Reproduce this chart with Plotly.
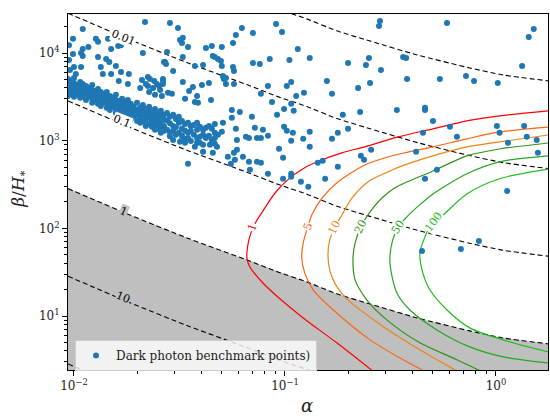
import numpy as np
import plotly.graph_objects as go

# ---------------- data ----------------
# dashed contours: base curve (level 1); other levels scale as 1/level
tau_alpha = [0.00937, 0.0119, 0.0184, 0.0343, 0.0660, 0.0925, 0.127, 0.176, 0.253, 0.424, 0.751, 1.08, 1.77]
tau_beta_level1 = [284, 222, 142, 77.8, 43.6, 31.8, 24.5, 17.9, 13.7, 9.5, 6.76, 5.62, 4.81]
tau_levels = [0.001, 0.01, 0.1, 1, 10, 100]

# SNR contours
snr_levels = [1, 5, 10, 20, 50, 100]
snr1_alpha = [0.286, 0.176, 0.122, 0.0925, 0.0786, 0.0682, 0.0660, 0.0667, 0.0690, 0.0728, 0.0803, 0.0897, 0.103, 0.124, 0.150, 0.186, 0.239, 0.344, 0.503, 0.728, 1.04, 1.77]
snr1_beta = [1.97, 4.94, 9.51, 16.5, 23.8, 36.3, 46.0, 64.7, 88.7, 118, 171, 253, 357, 491, 605, 727, 850, 1105, 1365, 1680, 1920, 2190]
snr5_alpha = [0.508, 0.363, 0.253, 0.176, 0.136, 0.124, 0.120, 0.122, 0.127, 0.134, 0.150, 0.178, 0.239, 0.307, 0.369, 0.503, 0.728, 1.04, 1.77]
snr5_beta = [2.07, 3.17, 5.34, 10.8, 19.9, 31.0, 47.2, 68.2, 95.9, 142, 222, 338, 529, 652, 727, 850, 1050, 1260, 1430]
snr10_alpha = [0.721, 0.639, 0.436, 0.276, 0.192, 0.167, 0.160, 0.163, 0.173, 0.186, 0.208, 0.247, 0.307, 0.369, 0.503, 0.728, 1.04, 1.77]
snr10_beta = [2.07, 2.43, 4.11, 8.34, 16.5, 27.9, 47.2, 73.8, 104, 142, 222, 338, 440, 529, 672, 848, 967, 1162]
snr20_alpha = [0.947, 0.653, 0.436, 0.304, 0.244, 0.215, 0.210, 0.215, 0.229, 0.247, 0.288, 0.331, 0.369, 0.503, 0.728, 1.04, 1.77]
snr20_beta = [2.07, 3.17, 4.94, 9.03, 15.3, 25.8, 43.6, 68.2, 104, 142, 222, 289, 329, 451, 672, 804, 942]
snr50_alpha = [1.77, 1.08, 0.751, 0.525, 0.391, 0.339, 0.322, 0.314, 0.324, 0.345, 0.378, 0.440, 0.503, 0.728, 1.04, 1.77]
snr50_beta = [2.92, 3.42, 4.44, 6.94, 11.7, 18.3, 27.9, 43.6, 73.8, 104, 135, 190, 247, 420, 574, 672]
snr100_alpha = [1.77, 1.08, 0.751, 0.586, 0.486, 0.446, 0.436, 0.451, 0.486, 0.555, 0.728, 1.04, 1.77]
snr100_beta = [3.90, 5.34, 7.32, 11.7, 19.9, 33.6, 52.4, 70.0, 104, 138, 247, 368, 475]

# benchmark points: dense band stored by column
band_alpha = [0.00937, 0.00968, 0.0100, 0.0103, 0.0107, 0.0110, 0.0114, 0.0118, 0.0122, 0.0126,
              0.0130, 0.0134, 0.0139, 0.0143, 0.0148, 0.0153, 0.0158, 0.0163, 0.0169, 0.0174,
              0.0180, 0.0186, 0.0192, 0.0199, 0.0206, 0.0212, 0.0219, 0.0227, 0.0234, 0.0242,
              0.0250, 0.0258, 0.0267, 0.0276, 0.0285, 0.0295, 0.0304, 0.0314, 0.0325, 0.0336,
              0.0347, 0.0358, 0.0370, 0.0383, 0.0395, 0.0409, 0.0422, 0.0436, 0.0450, 0.0465, 0.0481]
band_beta = [
    [5060, 4440, 4000, 3600, 3240], [4800, 4210, 3790, 3420], [5190, 4560, 3890, 3510, 3160],
    [4320, 4000, 3690, 3330], [4680, 4100, 3600, 3080], [4440, 3890, 3510, 3160],
    [4210, 3790, 3330, 2920], [4000, 3600, 3160], [4320, 3790, 3420, 3000, 2700],
    [3690, 3240, 2920], [3890, 3510, 3080, 2630], [3600, 3240, 2840, 2490],
    [3420, 3000, 2700], [3600, 3160, 2770, 2370], [3240, 2920, 2560, 2240],
    [3080, 2700, 2430], [3330, 2920, 2560, 2300, 2070], [2840, 2490, 2190],
    [3000, 2630, 2370, 2020], [2770, 2430, 2130, 1870], [2920, 2560, 2240, 1970],
    [2630, 2300, 2020, 1770], [2430, 2130, 1870], [2700, 2240, 1970, 1680],
    [2370, 2070, 1820, 1600], [2560, 2190, 1920, 1640], [2300, 2020, 1730, 1475],
    [2430, 2130, 1820, 1550], [2190, 1920, 1680, 1440], [2300, 2020, 1730, 1510, 1330],
    [2070, 1820, 1600, 1365], [2190, 1920, 1640, 1440, 1230], [1970, 1730, 1475, 1295],
    [2070, 1700, 1330], [1870, 1580, 1230, 1120], [1970, 1475, 1295],
    [1770, 1420, 1165], [1870, 1600, 1230], [1680, 1380, 1135, 1020],
    [1550, 1300, 1050], [1600, 1230, 1075], [1480, 1295, 990],
    [1510, 1165], [1600, 1330, 1075, 945], [1440, 1105],
    [1330, 1165, 896], [1400, 1075], [1475, 1135],
    [1365, 1020], [1550, 1075, 920], [1165],
]
# scattered benchmark points
upper_left_alpha = [0.0217, 0.0110, 0.00989, 0.0127, 0.0130, 0.0145, 0.0150, 0.0162, 0.0167, 0.0110,
                    0.0117, 0.0108, 0.0110, 0.00989, 0.0130, 0.0142, 0.0147, 0.0158, 0.0134, 0.0212,
                    0.0267, 0.0100, 0.0108, 0.0102, 0.0137, 0.0150, 0.0167, 0.0182, 0.0180, 0.0163,
                    0.0224, 0.0240, 0.0224, 0.0253, 0.0264, 0.00989, 0.00947, 0.00947, 0.00957,
                    0.0210, 0.0219, 0.0229, 0.0237, 0.0247, 0.0256, 0.0227, 0.0206, 0.0242, 0.0261]
upper_left_beta = [22600, 18800, 14500, 14500, 13400, 14500, 11100, 12000, 12300, 11100,
                   11700, 10000, 9240, 9740, 9000, 8540, 7900, 7110, 6930, 10000,
                   7900, 6930, 6930, 5770, 5770, 5770, 6080, 5770, 4440, 4800,
                   5330, 4800, 4210, 4210, 4800, 4210, 12300, 8320, 6400,
                   4930, 4440, 5060, 4000, 4440, 3790, 3600, 4000, 3330, 3240]
upper_mid_alpha = [0.0285, 0.0311, 0.0318, 0.0328, 0.0325, 0.0347, 0.0276, 0.0270, 0.0273, 0.0328,
                   0.0295, 0.0374, 0.0409, 0.0422, 0.0450, 0.0455, 0.0465, 0.0481, 0.0497, 0.0502,
                   0.0502, 0.0567, 0.0585, 0.0625, 0.0705, 0.0567, 0.0573, 0.0508, 0.0525, 0.0513,
                   0.0525, 0.0573, 0.0705, 0.0760, 0.0847, 0.0264, 0.0264, 0.0328, 0.0366, 0.0351,
                   0.0404, 0.0436, 0.0279, 0.0291, 0.0383, 0.0336, 0.0374, 0.0387, 0.0446]
upper_mid_beta = [22000, 19300, 14100, 14900, 13000, 11700, 10300, 7900, 7490, 9000,
                  6240, 7110, 7300, 11400, 12000, 9240, 9000, 8540, 8100, 11700,
                  7110, 13000, 16100, 19300, 16900, 6930, 6240, 5470, 5190, 5060,
                  4440, 4440, 7690, 7490, 8540, 5060, 4440, 4680, 4100, 3690,
                  4320, 4560, 3510, 3420, 3240, 3000, 2770, 2700, 2920]
upper_right_alpha = [0.0907, 0.0968, 0.115, 0.105, 0.131, 0.199, 0.242, 0.250, 0.285, 0.282,
                     0.279, 0.363, 0.158, 0.253, 0.222, 0.0830, 0.102, 0.107, 0.0769, 0.113,
                     0.123, 0.167, 0.0868, 0.107, 0.099, 0.110, 0.0917, 0.188, 0.227, 0.339,
                     0.099, 0.199]
upper_right_beta = [21400, 17400, 11100, 8320, 8770, 7690, 7300, 8770, 6400, 23200,
                    20300, 9000, 4800, 4560, 4000, 4210, 4210, 4680, 3420, 3240,
                    3510, 3420, 2770, 2630, 2300, 2190, 1970, 1970, 2130, 2240,
                    1440, 1365]
middle_alpha = [0.0720, 0.0786, 0.0736, 0.0769, 0.0830, 0.102, 0.109, 0.131, 0.107, 0.122,
                0.167, 0.178, 0.131, 0.0937, 0.0979, 0.0736, 0.0769, 0.143, 0.151, 0.178,
                0.229, 0.237, 0.256, 0.0830, 0.0979, 0.107, 0.107, 0.119, 0.129, 0.155]
middle_beta = [1400, 1330, 1075, 1075, 1135, 1295, 1230, 1260, 995, 1050,
               1050, 1230, 850, 807, 638, 574, 560, 560, 590, 504,
               672, 605, 786, 420, 368, 420, 388, 340, 299, 368]
right_alpha = [0.586, 1.51, 1.43, 0.375, 0.379, 0.542, 0.721, 0.787, 1.02, 1.33,
               0.461, 0.461, 0.503, 0.605, 0.451, 0.653, 1.01, 1.04, 1.36, 1.40,
               1.56, 1.14, 1.58, 0.418, 0.525, 0.461, 1.13, 0.830, 0.682, 0.446]
right_beta = [22000, 18800, 15200, 8770, 5060, 5060, 5470, 4800, 4560, 7110,
              2370, 2240, 1680, 1440, 1230, 1105, 1475, 1230, 1475, 1105,
              1020, 945, 727, 746, 466, 368, 267, 71.8, 58.2, 55.2]
lower_band_alpha = [0.0560, 0.0611, 0.0560, 0.0697, 0.0508, 0.0585, 0.0502, 0.0653, 0.0592, 0.0675,
                    0.0592, 0.0573, 0.0632, 0.0579, 0.0536, 0.0554, 0.0675, 0.0682, 0.0347, 0.0455,
                    0.0441, 0.0476, 0.0395, 0.0374, 0.0409, 0.0336, 0.0318, 0.0295, 0.0465]
lower_band_beta = [2240, 2130, 1820, 1870, 1600, 1365, 1260, 1105, 1020, 1075,
                   786, 727, 655, 605, 655, 545, 574, 466, 545, 727,
                   896, 850, 945, 850, 746, 945, 970, 1020, 1230]

# ---------------- assemble ----------------
pts_alpha, pts_beta = [], []
for a, col in zip(band_alpha, band_beta):
    pts_alpha += [a] * len(col)
    pts_beta += col
for A, B in [(upper_left_alpha, upper_left_beta), (upper_mid_alpha, upper_mid_beta),
             (upper_right_alpha, upper_right_beta), (middle_alpha, middle_beta),
             (right_alpha, right_beta), (lower_band_alpha, lower_band_beta)]:
    n = min(len(A), len(B))
    pts_alpha += A[:n]
    pts_beta += B[:n]

SERIF = "DejaVu Serif"
fig = go.Figure()

# gray excluded region below the level-1 dashed curve
fig.add_trace(go.Scatter(
    x=tau_alpha + [tau_alpha[-1], tau_alpha[0]],
    y=tau_beta_level1 + [1.0, 1.0],
    fill="toself", fillcolor="#bfbfbf", mode="lines", line=dict(width=0),
    hoverinfo="skip", showlegend=False))

for lev in tau_levels:
    fig.add_trace(go.Scatter(
        x=tau_alpha, y=list(np.array(tau_beta_level1) / lev), mode="lines",
        line=dict(color="black", width=1.1, dash="5px,3px", shape="spline", smoothing=0.6),
        hoverinfo="skip", showlegend=False))

snr_curves = [(snr1_alpha, snr1_beta), (snr5_alpha, snr5_beta), (snr10_alpha, snr10_beta),
              (snr20_alpha, snr20_beta), (snr50_alpha, snr50_beta), (snr100_alpha, snr100_beta)]
snr_colors = ["#ff0000", "#ff6410", "#ec8419", "#2f9414", "#22a822", "#20bd20"]
for (A, B), c in zip(snr_curves, snr_colors):
    fig.add_trace(go.Scatter(x=A, y=B, mode="lines",
                             line=dict(color=c, width=1.2, shape="spline", smoothing=0.8),
                             hoverinfo="skip", showlegend=False))

fig.add_trace(go.Scatter(x=pts_alpha, y=pts_beta, mode="markers",
                         marker=dict(color="#1f77b4", size=6),
                         name="Dark photon benchmark points)"))

# contour labels (alpha, beta, text, color, angle, background)
labels = [
    (0.0171, 14900, "0.01", "black", 22, "white"),
    (0.0169, 1640, "0.1", "black", 22, "white"),
    (0.0171, 154, "1", "black", 22, "#bfbfbf"),
    (0.0171, 16.1, "10", "black", 22, "#bfbfbf"),
    (0.0705, 104, "1", snr_colors[0], -70, "white"),
    (0.129, 104, "5", snr_colors[1], -70, "white"),
    (0.172, 101, "10", snr_colors[2], -64, "white"),
    (0.229, 104, "20", snr_colors[3], -64, "white"),
    (0.345, 104, "50", snr_colors[4], -58, "white"),
    (0.503, 118, "100", snr_colors[5], -54, "white"),
]
for a, b, t, c, ang, bg in labels:
    fig.add_annotation(x=np.log10(a), y=np.log10(b), text=t, showarrow=False,
                       xanchor="center", yanchor="middle",
                       textangle=ang, font=dict(family=SERIF, size=11, color=c),
                       bgcolor=bg, borderpad=0)

xt = [0.01, 0.1, 1]
xtt = ["10<sup>−2</sup>", "10<sup>−1</sup>", "10<sup>0</sup>"]
yt = [10, 100, 1000, 10000]
ytt = ["10<sup>1</sup>", "10<sup>2</sup>", "10<sup>3</sup>", "10<sup>4</sup>"]
xminor = [k * 0.01 for k in range(2, 10)] + [k * 0.1 for k in range(2, 10)]
yminor = [k for k in range(3, 10)] + [k * 10 for k in range(2, 10)] + \
         [k * 100 for k in range(2, 10)] + [k * 1000 for k in range(2, 10)] + [20000]

axis_common = dict(showline=True, linecolor="black", linewidth=1, mirror=True,
                   ticks="outside", ticklen=5, tickwidth=1, tickcolor="black",
                   showgrid=False, zeroline=False,
                   tickfont=dict(family=SERIF, size=12, color="#222"))
fig.update_xaxes(type="log", range=[-2.0284, 0.2466], tickmode="array",
                 tickvals=xt, ticktext=xtt,
                 minor=dict(tickvals=xminor, ticks="outside", ticklen=3, tickcolor="black", showgrid=False),
                 **axis_common)
fig.update_yaxes(type="log", range=[0.384, 4.445], tickmode="array",
                 tickvals=yt, ticktext=ytt,
                 minor=dict(tickvals=yminor, ticks="outside", ticklen=3, tickcolor="black", showgrid=False),
                 **axis_common)

fig.add_annotation(xref="paper", yref="paper", x=0.497, y=-0.10, text="<i>α</i>",
                   xanchor="center", yanchor="middle",
                   showarrow=False, font=dict(family=SERIF, size=18, color="#222"))
fig.add_annotation(xref="paper", yref="paper", x=-0.1, y=0.506,
                   xanchor="center", yanchor="middle",
                   text="<i>β</i>/<i>H</i><sub>*</sub>", textangle=-90,
                   showarrow=False, font=dict(family=SERIF, size=17, color="#222"))

fig.update_layout(
    width=550, height=419,
    margin=dict(l=68, r=2, t=14, b=49),
    plot_bgcolor="white", paper_bgcolor="white",
    legend=dict(x=0.0146, y=0.0843, xanchor="left", yanchor="top",
                bgcolor="rgba(255,255,255,0.8)", bordercolor="#cccccc", borderwidth=1,
                font=dict(family=SERIF, size=12, color="#222")),
)

fig.write_html("out.html")
